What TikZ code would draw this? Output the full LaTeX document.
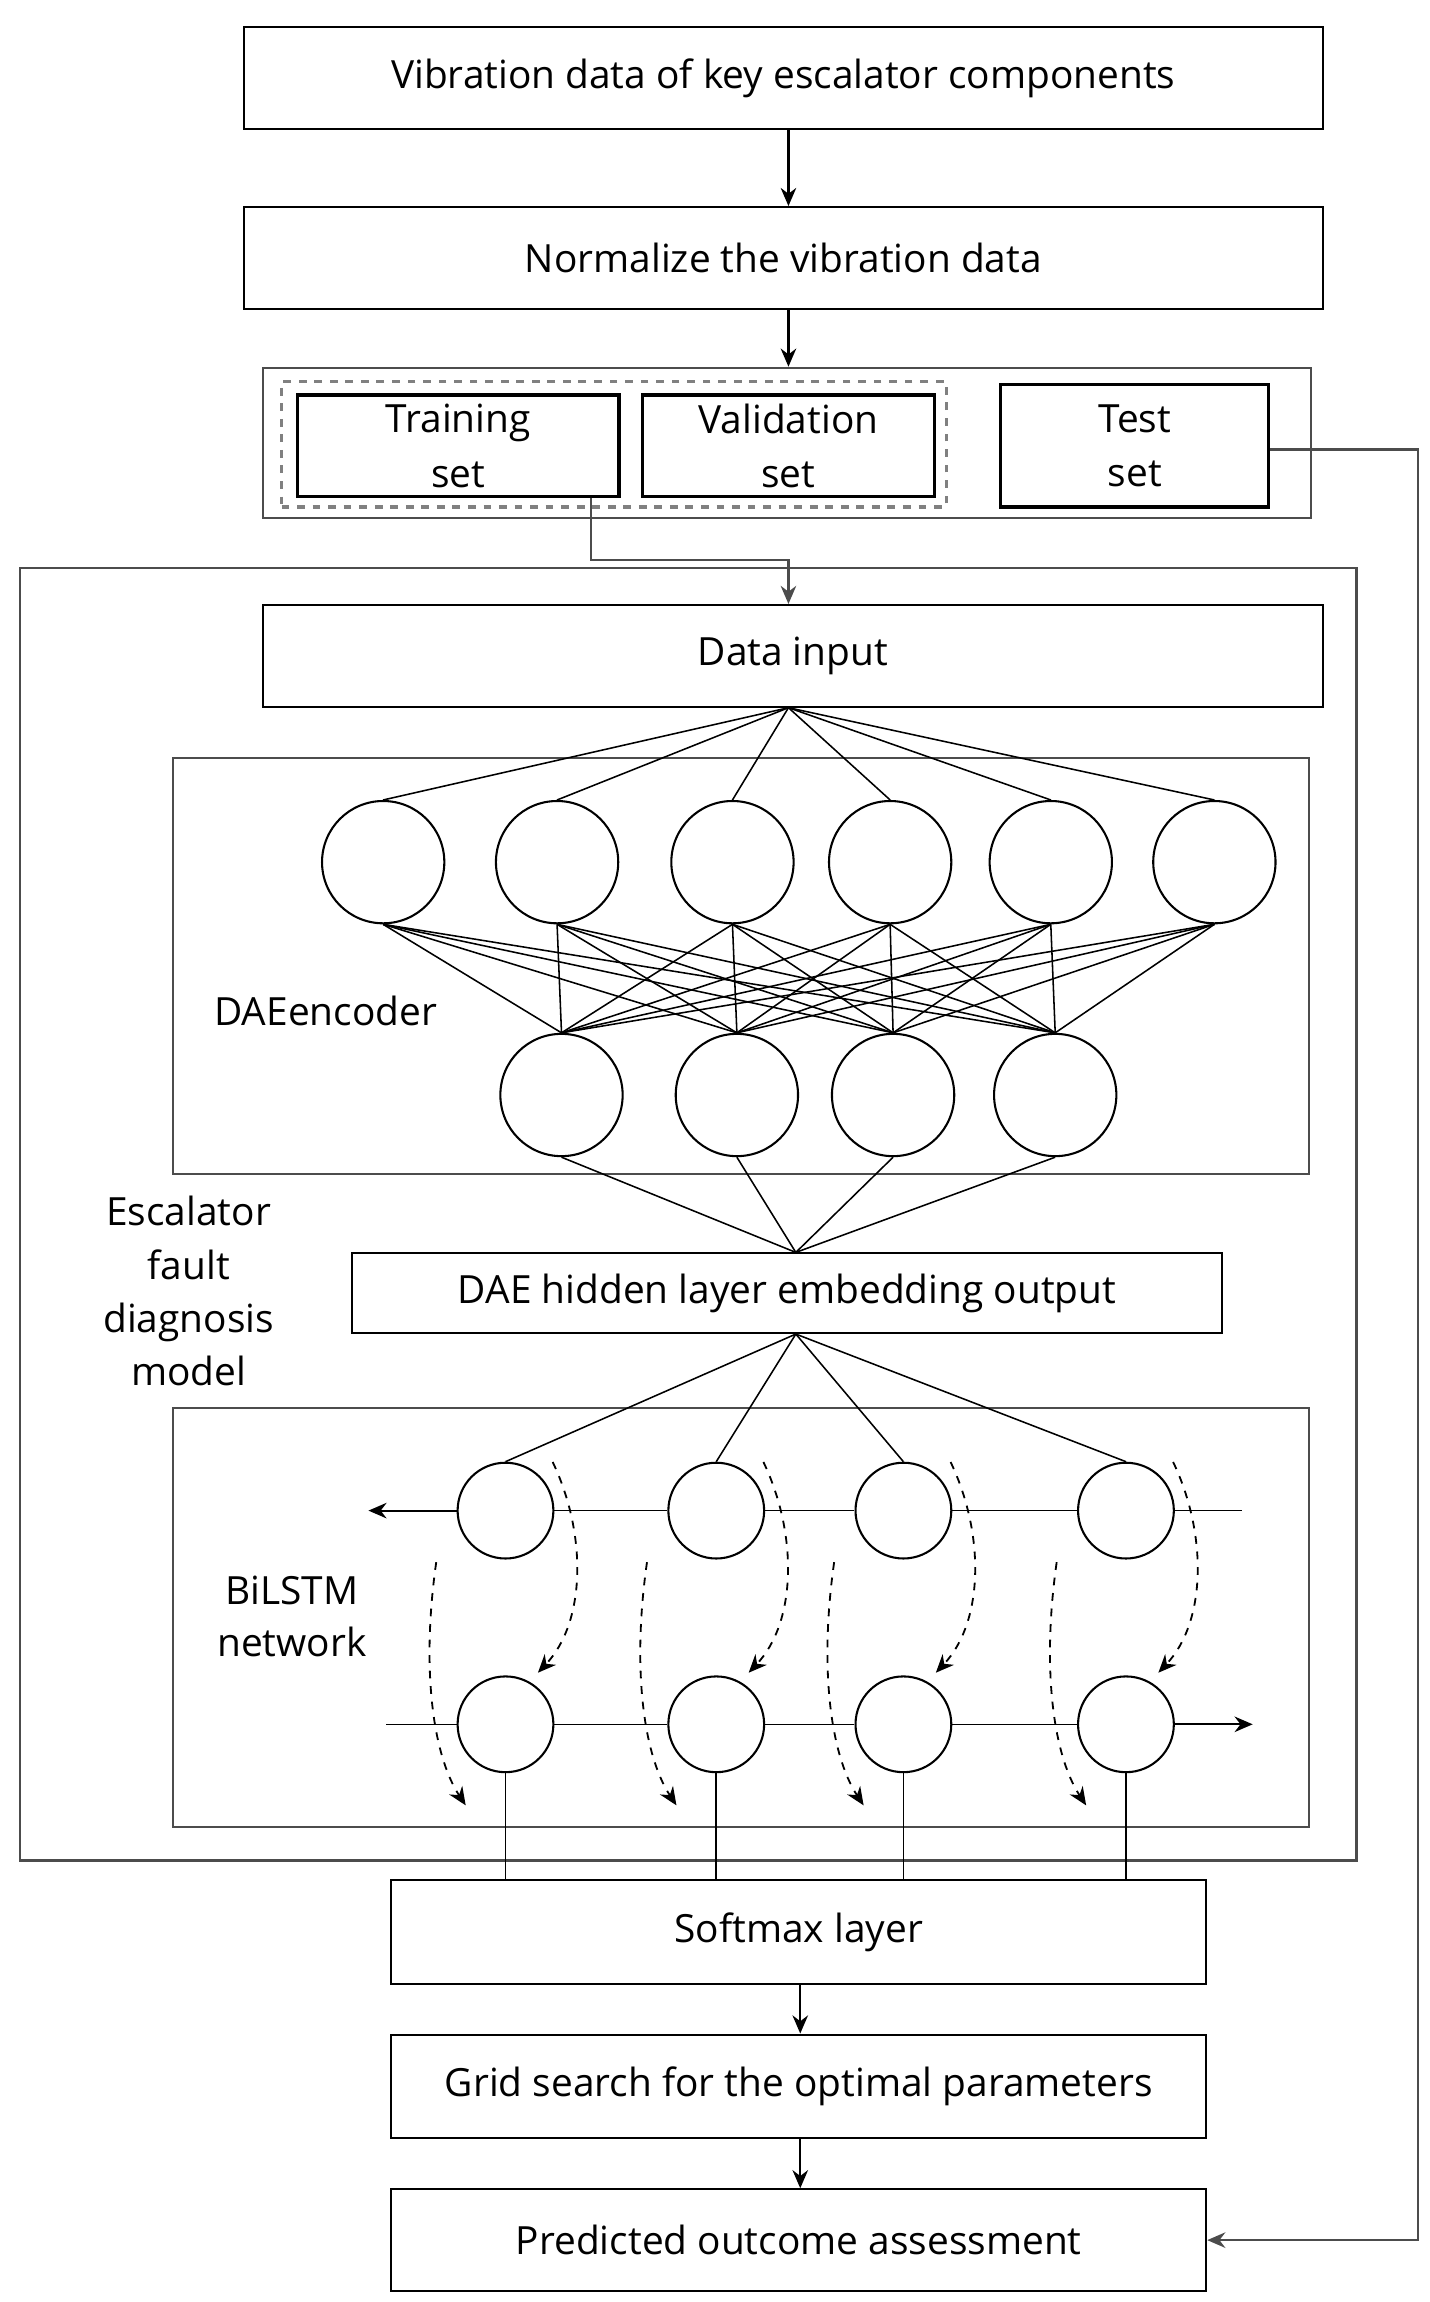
\documentclass[tikz,border=0pt]{standalone}
\usepackage{fontspec}
\setmainfont{Open Sans}
\usetikzlibrary{arrows.meta}
\begin{document}
\begin{tikzpicture}[x=0.02cm,y=-0.02cm,
  box/.style={draw,line width=0.8pt,inner sep=0pt,align=center,font=\fontsize{15}{21}\selectfont},
  frame/.style={draw,gray!60!black,line width=0.8pt,inner sep=0pt},
  neu/.style={draw,circle,line width=0.8pt,minimum size=1.66cm,inner sep=0pt},
  lneu/.style={draw,circle,line width=0.8pt,minimum size=1.3cm,inner sep=0pt},
  lbl/.style={align=center,font=\fontsize{15}{21}\selectfont},
  arr/.style={-{Stealth[length=7pt,width=6pt]},line width=0.8pt},
  cn/.style={line width=0.6pt},
  dsh/.style={dashed,line width=0.7pt,-{Stealth[length=7pt,width=6pt]}}]
\useasboundingbox (0,0) rectangle (970,1562);
\node[box,minimum width=14.64cm,minimum height=1.38cm] (b1) at (531.5,53) {Vibration data of key escalator components};
\node[box,minimum width=14.64cm,minimum height=1.38cm] (b2) at (531.5,175) {Normalize the vibration data};
\node[frame,minimum width=14.22cm,minimum height=2.04cm] (split) at (534,300.5) {};
\node[draw,gray,dashed,line width=1.2pt,minimum width=9.02cm,minimum height=1.7cm] (dsh) at (416.5,301.5) {};
\node[box,line width=1.2pt,minimum width=4.36cm,minimum height=1.38cm] (tr) at (311,302.5) {Training\\set};
\node[box,line width=1.2pt,minimum width=3.96cm,minimum height=1.38cm] (va) at (535,302.5) {Validation\\set};
\node[box,line width=1.2pt,minimum width=3.64cm,minimum height=1.66cm] (te) at (770,302.5) {Test\\set};
\node[frame,minimum width=18.14cm,minimum height=17.54cm] (model) at (467,824) {};
\node[box,minimum width=14.38cm,minimum height=1.38cm] (din) at (538,445) {Data input};
\node[frame,minimum width=15.42cm,minimum height=5.64cm] (dae) at (503,655.5) {};
\node[box,minimum width=11.82cm,minimum height=1.08cm] (hid) at (534,877.5) {DAE hidden layer embedding output};
\node[frame,minimum width=15.42cm,minimum height=5.68cm] (bil) at (503,1097.5) {};
\node[box,minimum width=11.06cm,minimum height=1.42cm] (soft) at (542,1311) {Softmax layer};
\node[box,minimum width=11.06cm,minimum height=1.4cm] (grid) at (542,1415.5) {Grid search for the optimal parameters};
\node[box,minimum width=11.06cm,minimum height=1.38cm] (pred) at (542,1520) {Predicted outcome assessment};
\node[lbl] (lenc) at (221,686) {DAEencoder};
\node[lbl,font=\fontsize{15}{20.5}\selectfont] (lmod) at (128,876) {Escalator\\fault\\diagnosis\\model};
\node[lbl,font=\fontsize{15}{20}\selectfont] (lbi) at (198,1097) {BiLSTM\\network};
% arrows
\draw[arr] (b1.south-|535,0) -- (b2.north-|535,0);
\draw[arr] (b2.south-|535,0) -- (split.north-|535,0);
\coordinate (k1) at (401,380); \coordinate (k2) at (535,380);
\draw[arr,gray!60!black] (tr.south-|401,0) -- (k1) -- (k2) -- (din.north-|535,0);
\draw[arr] (soft.south-|543,0) -- (grid.north-|543,0);
\draw[arr] (grid.south-|543,0) -- (pred.north-|543,0);
\coordinate (t1) at (962,305); \coordinate (t2) at (962,1520);
\draw[arr,gray!60!black] (te.east|-t1) -- (t1) -- (t2) -- (pred.east|-t2);
% DAE
\foreach \i/\x in {1/260,2/378,3/497,4/604,5/713,6/824}{
  \node[neu] (u\i) at (\x,585) {};
  \draw[cn] (din.south-|535,0) -- (u\i.north);}
\foreach \i/\x in {1/381,2/500,3/606,4/716}{
  \node[neu] (d\i) at (\x,743) {};
  \draw[cn] (d\i.south) -- (hid.north-|540,0);}
\foreach \i in {1,...,6}{\foreach \j in {1,...,4}{\draw[cn] (u\i.south) -- (d\j.north);}}
% BiLSTM
\foreach \i/\x in {1/343,2/486,3/613,4/764}{
  \node[lneu] (p\i) at (\x,1025) {};
  \node[lneu] (q\i) at (\x,1170) {};
  \draw[cn] (hid.south-|540,0) -- (p\i.north);
  \draw[cn] (q\i.south) -- (soft.north-|q\i);
  \draw[dsh] (\x+32,992) .. controls (\x+55,1040) and (\x+55,1100) .. (\x+22,1135);
  \draw[dsh] (\x-47,1060) .. controls (\x-57,1130) and (\x-50,1190) .. (\x-27,1225);}
\coordinate (ll) at (250,1025); \coordinate (lr) at (843,1025);
\coordinate (ml) at (262,1170); \coordinate (mr) at (850,1170);
\draw[arr] (p1.west) -- (ll);
\draw[cn] (p1.east) -- (p2.west) (p2.east) -- (p3.west) (p3.east) -- (p4.west) (p4.east) -- (lr);
\draw[cn] (ml) -- (q1.west) (q1.east) -- (q2.west) (q2.east) -- (q3.west) (q3.east) -- (q4.west);
\draw[arr] (q4.east) -- (mr);
\end{tikzpicture}
\end{document}
